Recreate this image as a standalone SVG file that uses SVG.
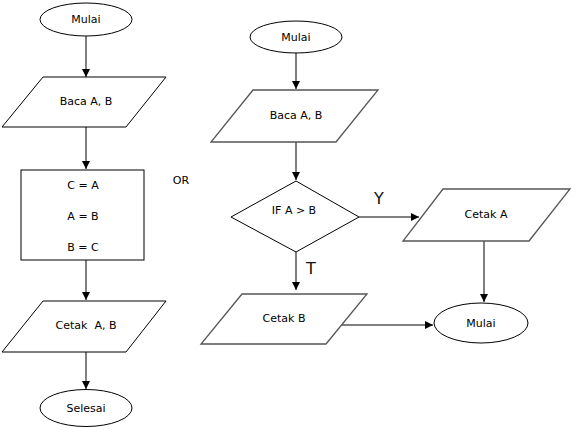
<svg xmlns="http://www.w3.org/2000/svg" width="584" height="430" viewBox="0 0 584 430">
<style>
.s{fill:#fff;stroke:#000;stroke-width:1}
.p{fill:#fff;stroke:#555;stroke-width:1.3}
.t{font-family:"DejaVu Sans",sans-serif;font-size:11px;fill:#000;text-anchor:middle;dominant-baseline:central}
.b{font-family:"DejaVu Sans",sans-serif;font-size:16px;fill:#111;text-anchor:middle;dominant-baseline:central}
.c{stroke:#000;stroke-width:1;fill:none;marker-end:url(#a)}
</style>
<defs>
<marker id="a" markerWidth="10" markerHeight="10" refX="8" refY="4" orient="auto" markerUnits="userSpaceOnUse">
<path d="M0,0 L8,4 L0,8 Z" fill="#000"/>
</marker>
</defs>
<rect width="584" height="430" fill="#fff"/>
<g id="connectors">
<line class="c" x1="86" y1="36" x2="86" y2="77"/>
<line class="c" x1="86" y1="127" x2="86" y2="169"/>
<line class="c" x1="86" y1="260" x2="86" y2="300"/>
<line class="c" x1="86" y1="352" x2="86" y2="389"/>
<line class="c" x1="296" y1="53" x2="296" y2="89"/>
<line class="c" x1="296" y1="142" x2="296" y2="180"/>
<line class="c" x1="359" y1="217" x2="419" y2="217"/>
<line class="c" x1="296" y1="252" x2="296" y2="290"/>
<line class="c" x1="484" y1="241" x2="484" y2="302"/>
<line class="c" x1="342" y1="325" x2="433" y2="325"/>
</g>
<g id="n1"><ellipse class="s" cx="86" cy="19.5" rx="46" ry="16.5"/><text class="t" x="86" y="19.5">Mulai</text></g>
<g id="n2"><polygon class="s" points="43,77 166,77 126,127 2,127"/><text class="t" x="86" y="101">Baca A, B</text></g>
<g id="n3"><rect class="s" x="21" y="170" width="123" height="90"/><text class="t" x="83" y="185">C = A</text><text class="t" x="83" y="216">A = B</text><text class="t" x="83" y="247">B = C</text></g>
<g id="n4"><polygon class="s" points="43,301 166,301 126,352 2,352"/><text class="t" x="86" y="325" xml:space="preserve" style="white-space:pre">Cetak  A, B</text></g>
<g id="n5"><ellipse class="s" cx="86" cy="408" rx="46" ry="18.5"/><text class="t" x="86" y="408">Selesai</text></g>
<text id="or" class="t" x="181" y="180">OR</text>
<g id="m1"><ellipse class="s" cx="296" cy="37" rx="46" ry="16"/><text class="t" x="296" y="37">Mulai</text></g>
<g id="m2"><polygon class="p" points="253,90 378,90 336,142 211,142"/><text class="t" x="296" y="115">Baca A, B</text></g>
<g id="m3"><polygon class="s" points="296,181 359,217 296,252 231,217"/><text class="t" x="294" y="210">IF A &gt; B</text></g>
<text id="y" class="b" x="379" y="198">Y</text>
<text id="tl" class="b" x="311" y="268">T</text>
<g id="m4"><polygon class="p" points="443,189 570,189 529,241 403,241"/><text class="t" x="486" y="214">Cetak A</text></g>
<g id="m5"><polygon class="p" points="242,294 367,294 326,344 201,344"/><text class="t" x="284" y="318">Cetak B</text></g>
<g id="m6"><ellipse class="s" cx="481" cy="323" rx="47" ry="20"/><text class="t" x="481" y="323">Mulai</text></g>
</svg>
